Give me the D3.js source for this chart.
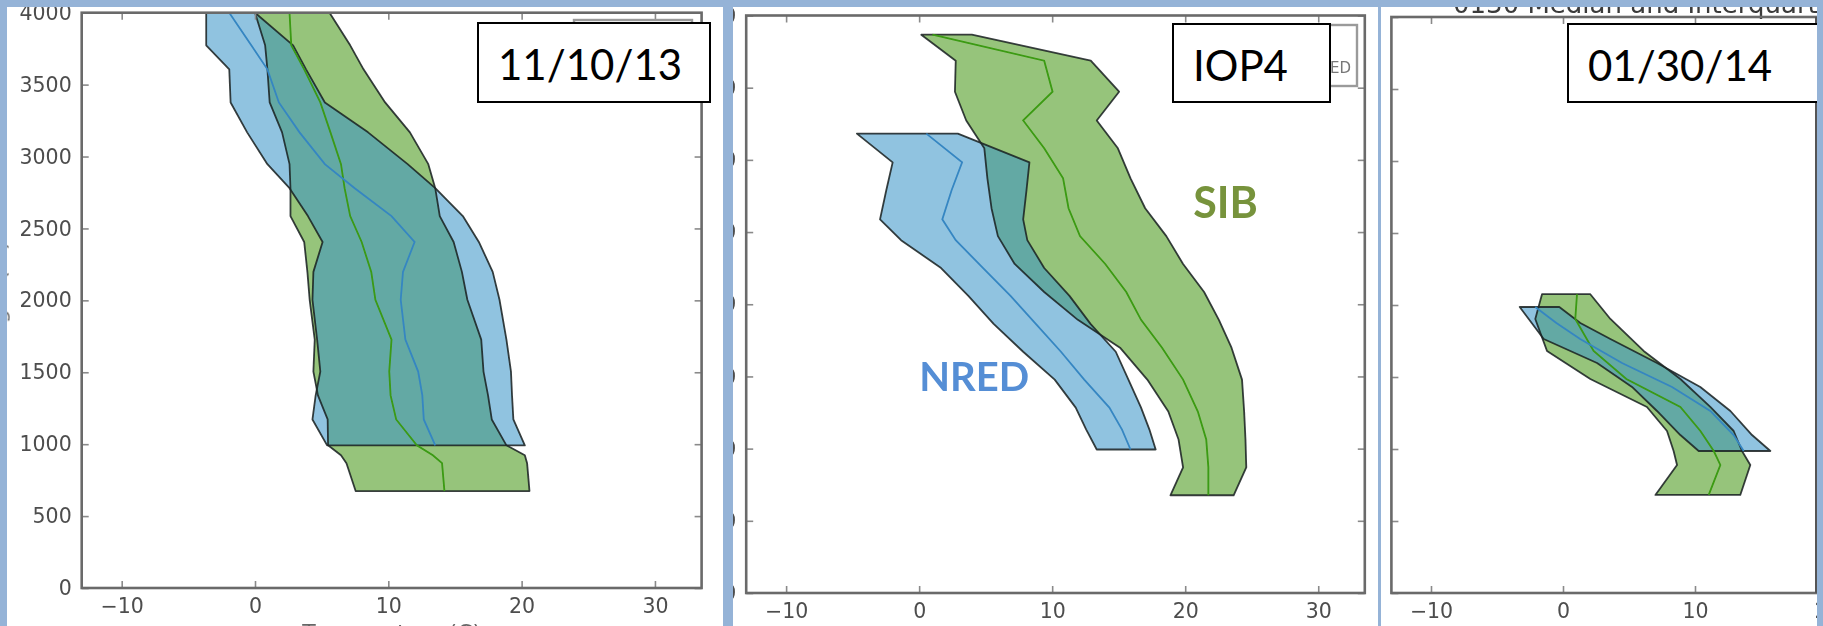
<!DOCTYPE html>
<html>
<head>
<meta charset="utf-8">
<script src="https://cdn.jsdelivr.net/npm/d3@7"></script>
<style>
  html, body { margin: 0; padding: 0; background: #95B3D7; }
  svg { display: block; }
</style>
</head>
<body>
<svg id="fig" width="1823" height="626"></svg>
<script>
// ---------------- data ----------------
const xTickValues = [-10, 0, 10, 20, 30];
const yTickValues = [0, 500, 1000, 1500, 2000, 2500, 3000, 3500, 4000];
const xDomain = [-13, 33.5];
const yDomain = [0, 4000];
const caseLabels = ["11/10/13", "IOP4", "01/30/14"];

// 11/10/13 : temperature quartiles (°C) vs height (m)
const nov13SibHeight = [4000, 3773, 3606, 3376, 3168, 2947, 2780, 2586, 2406, 2198, 2004, 1727, 1505, 1339, 1172, 992, 923, 868, 674];
const nov13SibQ25    = [0.0, 0.76, 0.93, 1.1, 2.03, 2.59, 2.66, 2.66, 3.69, 3.93, 4.1, 4.48, 4.38, 4.72, 5.45, 5.48, 6.45, 6.86, 7.55];
const nov13SibMedian = [2.59, 2.72, 3.69, 4.9, 5.66, 6.45, 6.72, 7.14, 8.0, 8.72, 9.03, 10.24, 10.07, 10.17, 10.59, 12.14, 13.34, 14.03, 14.21];
const nov13SibQ75    = [5.59, 7.14, 8.14, 9.76, 11.62, 13.0, 13.52, 13.86, 14.9, 15.52, 15.93, 16.97, 17.14, 17.48, 17.76, 18.86, 20.24, 20.41, 20.59];

const nov13NredHeight = [4000, 3773, 3606, 3376, 3168, 2947, 2780, 2586, 2406, 2198, 2004, 1727, 1505, 1339, 1172, 992];
const nov13NredQ25    = [-3.66, -3.66, -1.93, -1.83, -0.59, 0.93, 2.59, 3.97, 5.07, 4.38, 4.31, 4.66, 4.9, 4.55, 4.31, 5.41];
const nov13NredMedian = [-1.93, -0.28, 0.93, 1.79, 3.34, 5.24, 7.48, 10.24, 11.97, 11.1, 10.93, 11.28, 12.24, 12.55, 12.66, 13.52];
const nov13NredQ75    = [0.0, 2.86, 3.83, 5.24, 8.48, 11.45, 13.52, 15.59, 16.79, 17.83, 18.34, 18.86, 19.2, 19.28, 19.38, 20.24];

// IOP4
const iop4SibHeight = [3867, 3687, 3472, 3273, 3080, 2872, 2665, 2472, 2279, 2085, 1892, 1699, 1478, 1257, 1063, 870, 677];
const iop4SibQ25    = [0.16, 2.75, 2.69, 3.54, 4.9, 5.13, 5.44, 5.92, 7.18, 9.4, 11.93, 15.1, 17.15, 18.73, 19.5, 19.84, 18.89];
const iop4SibMedian = [1.0, 9.4, 10.03, 7.82, 9.4, 10.82, 11.23, 12.09, 13.99, 15.57, 16.68, 18.26, 19.84, 20.95, 21.58, 21.74, 21.74];
const iop4SibQ75    = [3.96, 12.9, 15.03, 13.35, 14.94, 15.89, 16.99, 18.58, 19.84, 21.42, 22.53, 23.48, 24.27, 24.43, 24.53, 24.59, 23.64];

const iop4NredHeight = [3182, 2983, 2790, 2588, 2444, 2251, 2058, 1864, 1671, 1478, 1284, 1132, 994];
const iop4NredQ25    = [-4.68, -1.99, -2.47, -2.94, -1.36, 1.65, 3.7, 5.6, 7.82, 10.19, 11.77, 12.56, 13.35];
const iop4NredMedian = [0.54, 3.23, 2.44, 1.74, 2.75, 4.81, 6.87, 8.77, 10.66, 12.41, 14.3, 15.25, 15.89];
const iop4NredQ75    = [2.91, 8.29, 8.07, 7.82, 8.13, 9.4, 11.3, 12.88, 14.78, 15.73, 16.68, 17.31, 17.78];

// 01/30/14
const jan14SibHeight = [2075, 1903, 1681, 1486, 1292, 1125, 986, 889, 681];
const jan14SibQ25    = [-1.59, -2.1, -1.21, 2.07, 6.36, 7.88, 8.38, 8.64, 7.0];
const jan14SibMedian = [1.06, 0.93, 2.32, 4.8, 8.89, 10.41, 11.42, 11.92, 11.04];
const jan14SibQ75    = [2.07, 3.59, 6.11, 8.89, 11.16, 12.93, 13.56, 14.19, 13.43];

const jan14NredHeight = [1986, 1875, 1764, 1597, 1431, 1264, 1097, 986];
const jan14NredQ25    = [-3.28, -2.37, -1.46, 2.58, 5.23, 7.12, 8.89, 10.28];
const jan14NredMedian = [-2.1, -0.5, 1.3, 4.47, 8.26, 11.16, 12.93, 13.69];
const jan14NredQ75    = [-0.28, 1.31, 3.59, 7.12, 10.4, 12.68, 14.32, 15.71];

// ---------------- helpers ----------------
function profile(height, q25, median, q75) {
  return height.map((h, i) => ({ h, lo: q25[i], med: median[i], hi: q75[i] }));
}

const caseData = [
  { sib: profile(nov13SibHeight, nov13SibQ25, nov13SibMedian, nov13SibQ75),
    nred: profile(nov13NredHeight, nov13NredQ25, nov13NredMedian, nov13NredQ75) },
  { sib: profile(iop4SibHeight, iop4SibQ25, iop4SibMedian, iop4SibQ75),
    nred: profile(iop4NredHeight, iop4NredQ25, iop4NredMedian, iop4NredQ75) },
  { sib: profile(jan14SibHeight, jan14SibQ25, jan14SibMedian, jan14SibQ75),
    nred: profile(jan14NredHeight, jan14NredQ25, jan14NredMedian, jan14NredQ75) }
];

// panel geometry on the slide
const layout = [
  { frame: [7, 7, 716, 619],   plot: { x0: 81.7, x1: 701.6, y0: 588, y1: 12.7 },
    box: [478, 23, 232, 79], legend: [574, 20, 118, 66], legendText: null },
  { frame: [733, 7, 645, 619], plot: { x0: 746.2, x1: 1364.8, y0: 593, y1: 15.5 },
    box: [1173, 24, 157, 78], legend: [1208, 25, 149, 61], legendText: "NRED" },
  { frame: [1381, 7, 436, 619], plot: { x0: 1391.4, x1: 2005.2, y0: 593, y1: 17 },
    box: [1568, 24, 250, 78], legend: null, edge: 1816,
    title: "0130 Median and Interquartile Range", titleX: 1453 }
];

const COLORS = {
  sibFill: "rgba(68,150,14,0.56)",
  nredFill: "rgba(58,148,200,0.56)",
  sibLine: "#3a9a12",
  nredLine: "#3586c2",
  edge: "rgba(28,36,36,0.88)",
  spine: "#6a6a6a",
  tickText: "#4d4d4d"
};

const svg = d3.select("#fig");
const defs = svg.append("defs");
defs.append("filter").attr("id", "soft")
  .attr("x", "-2%").attr("y", "-2%").attr("width", "104%").attr("height", "104%")
  .append("feGaussianBlur").attr("stdDeviation", 0.6);

svg.append("rect").attr("width", 1823).attr("height", 626).attr("fill", "#95B3D7");

const fmt = d => (d < 0 ? "\u2212" + Math.abs(d) : String(d));

layout.forEach((L, i) => {
  const [fx, fy, fw, fh] = L.frame;
  defs.append("clipPath").attr("id", "frame" + i)
    .append("rect").attr("x", fx).attr("y", fy).attr("width", fw).attr("height", fh);
  defs.append("clipPath").attr("id", "plot" + i)
    .append("rect").attr("x", L.plot.x0).attr("y", L.plot.y1)
    .attr("width", L.plot.x1 - L.plot.x0).attr("height", L.plot.y0 - L.plot.y1);

  const panel = svg.append("g").attr("clip-path", `url(#frame${i})`);
  panel.append("rect").attr("x", fx).attr("y", fy).attr("width", fw).attr("height", fh).attr("fill", "#fff");

  const x = d3.scaleLinear().domain(xDomain).range([L.plot.x0, L.plot.x1]);
  const y = d3.scaleLinear().domain(yDomain).range([L.plot.y0, L.plot.y1]);

  const mpl = panel.append("g").attr("filter", "url(#soft)");

  // figure title (mostly hidden under the slide edge)
  if (L.title) {
    mpl.append("text").attr("x", L.titleX).attr("y", 13)
      .attr("font-family", "DejaVu Sans")
      .attr("font-size", 26).attr("fill", "#3a3a3a").text(L.title);
  }

  // quartile bands: fills, then outlines, then medians
  const plotG = mpl.append("g").attr("clip-path", `url(#plot${i})`);
  const area = d3.area().y(d => y(d.h)).x0(d => x(d.lo)).x1(d => x(d.hi));
  const medLine = d3.line().x(d => x(d.med)).y(d => y(d.h));
  const data = caseData[i];

  plotG.append("path").datum(data.sib).attr("d", area).attr("fill", COLORS.sibFill);
  plotG.append("path").datum(data.nred).attr("d", area).attr("fill", COLORS.nredFill);
  [data.sib, data.nred].forEach(band => {
    plotG.append("path").datum(band).attr("d", area)
      .attr("fill", "none").attr("stroke", COLORS.edge).attr("stroke-width", 1.8)
      .attr("stroke-linejoin", "round");
  });
  plotG.append("path").datum(data.sib).attr("d", medLine)
    .attr("fill", "none").attr("stroke", COLORS.sibLine).attr("stroke-width", 1.8);
  plotG.append("path").datum(data.nred).attr("d", medLine)
    .attr("fill", "none").attr("stroke", COLORS.nredLine).attr("stroke-width", 1.8);

  // axes (ticks point inward)
  const styleAxis = g => {
    g.select(".domain").remove();
    g.selectAll(".tick line").attr("stroke", "#8a8a8a").attr("stroke-width", 1.6);
    g.selectAll(".tick text").attr("fill", COLORS.tickText)
      .attr("font-family", "DejaVu Sans").attr("font-size", 20.5);
  };
  mpl.append("g").attr("transform", `translate(0,${L.plot.y0})`)
    .call(d3.axisBottom(x).tickValues(xTickValues).tickFormat(fmt).tickSize(-7).tickPadding(10))
    .call(styleAxis);
  mpl.append("g").attr("transform", `translate(0,${L.plot.y1})`)
    .call(d3.axisTop(x).tickValues(xTickValues).tickFormat("").tickSize(-7))
    .call(styleAxis);
  mpl.append("g").attr("transform", `translate(${L.plot.x0},0)`)
    .call(d3.axisLeft(y).tickValues(yTickValues).tickFormat(fmt).tickSize(-7).tickPadding(10))
    .call(styleAxis);
  mpl.append("g").attr("transform", `translate(${L.plot.x1},0)`)
    .call(d3.axisRight(y).tickValues(yTickValues).tickFormat("").tickSize(-7))
    .call(styleAxis);

  // axis titles (fall mostly outside the slide crop)
  mpl.append("text").attr("x", (L.plot.x0 + L.plot.x1) / 2).attr("y", L.plot.y0 + 52)
    .attr("text-anchor", "middle").attr("font-family", "DejaVu Sans").attr("font-size", 22)
    .attr("fill", "#666").text("Temperature (C)");
  mpl.append("text")
    .attr("transform", `translate(${L.plot.x0 - 76},${(L.plot.y0 + L.plot.y1) / 2}) rotate(-90)`)
    .attr("text-anchor", "middle").attr("font-family", "DejaVu Sans").attr("font-size", 22)
    .attr("fill", "#666").text("Height (m)");

  // spines
  mpl.append("rect").attr("x", L.plot.x0).attr("y", L.plot.y1)
    .attr("width", L.plot.x1 - L.plot.x0).attr("height", L.plot.y0 - L.plot.y1)
    .attr("fill", "none").attr("stroke", COLORS.spine).attr("stroke-width", 2.6);

  if (L.edge) {
    mpl.append("line").attr("x1", L.edge).attr("x2", L.edge)
      .attr("y1", L.plot.y1).attr("y2", L.plot.y0)
      .attr("stroke", "#555").attr("stroke-width", 2);
  }

  // legend frame (under the case label box)
  if (L.legend) {
    const [lx, ly, lw, lh] = L.legend;
    const lg = mpl.append("g");
    lg.append("rect").attr("x", lx).attr("y", ly).attr("width", lw).attr("height", lh)
      .attr("fill", "#fff").attr("stroke", "#9a9a9a").attr("stroke-width", 2.4);
    if (L.legendText) {
      lg.append("text").attr("x", lx + lw - 6).attr("y", ly + 48).attr("text-anchor", "end")
        .attr("font-family", "DejaVu Sans").attr("font-size", 15).attr("fill", "#777")
        .text(L.legendText);
    }
  }

  // case label box
  const [bx, by, bw, bh] = L.box;
  panel.append("rect").attr("x", bx).attr("y", by).attr("width", bw).attr("height", bh)
    .attr("fill", "#fff").attr("stroke", "#000").attr("stroke-width", 2);
  panel.append("text").attr("x", bx + 20).attr("y", by + 57)
    .attr("font-family", "Lato").attr("font-size", 42).attr("fill", "#000")
    .text(caseLabels[i]);
});

// series labels in the IOP4 panel
const P2 = layout[1];
const x2 = d3.scaleLinear().domain(xDomain).range([P2.plot.x0, P2.plot.x1]);
const y2 = d3.scaleLinear().domain(yDomain).range([P2.plot.y0, P2.plot.y1]);
svg.append("text").attr("x", x2(20.6)).attr("y", y2(2600))
  .attr("font-family", "Lato").attr("font-weight", "bold").attr("font-size", 43)
  .attr("fill", "#77933C").text("SIB");
svg.append("text").attr("x", x2(0)).attr("y", y2(1400))
  .attr("font-family", "Lato").attr("font-weight", "bold").attr("font-size", 40)
  .attr("fill", "#558ED5").text("NRED");
</script>
</body>
</html>
